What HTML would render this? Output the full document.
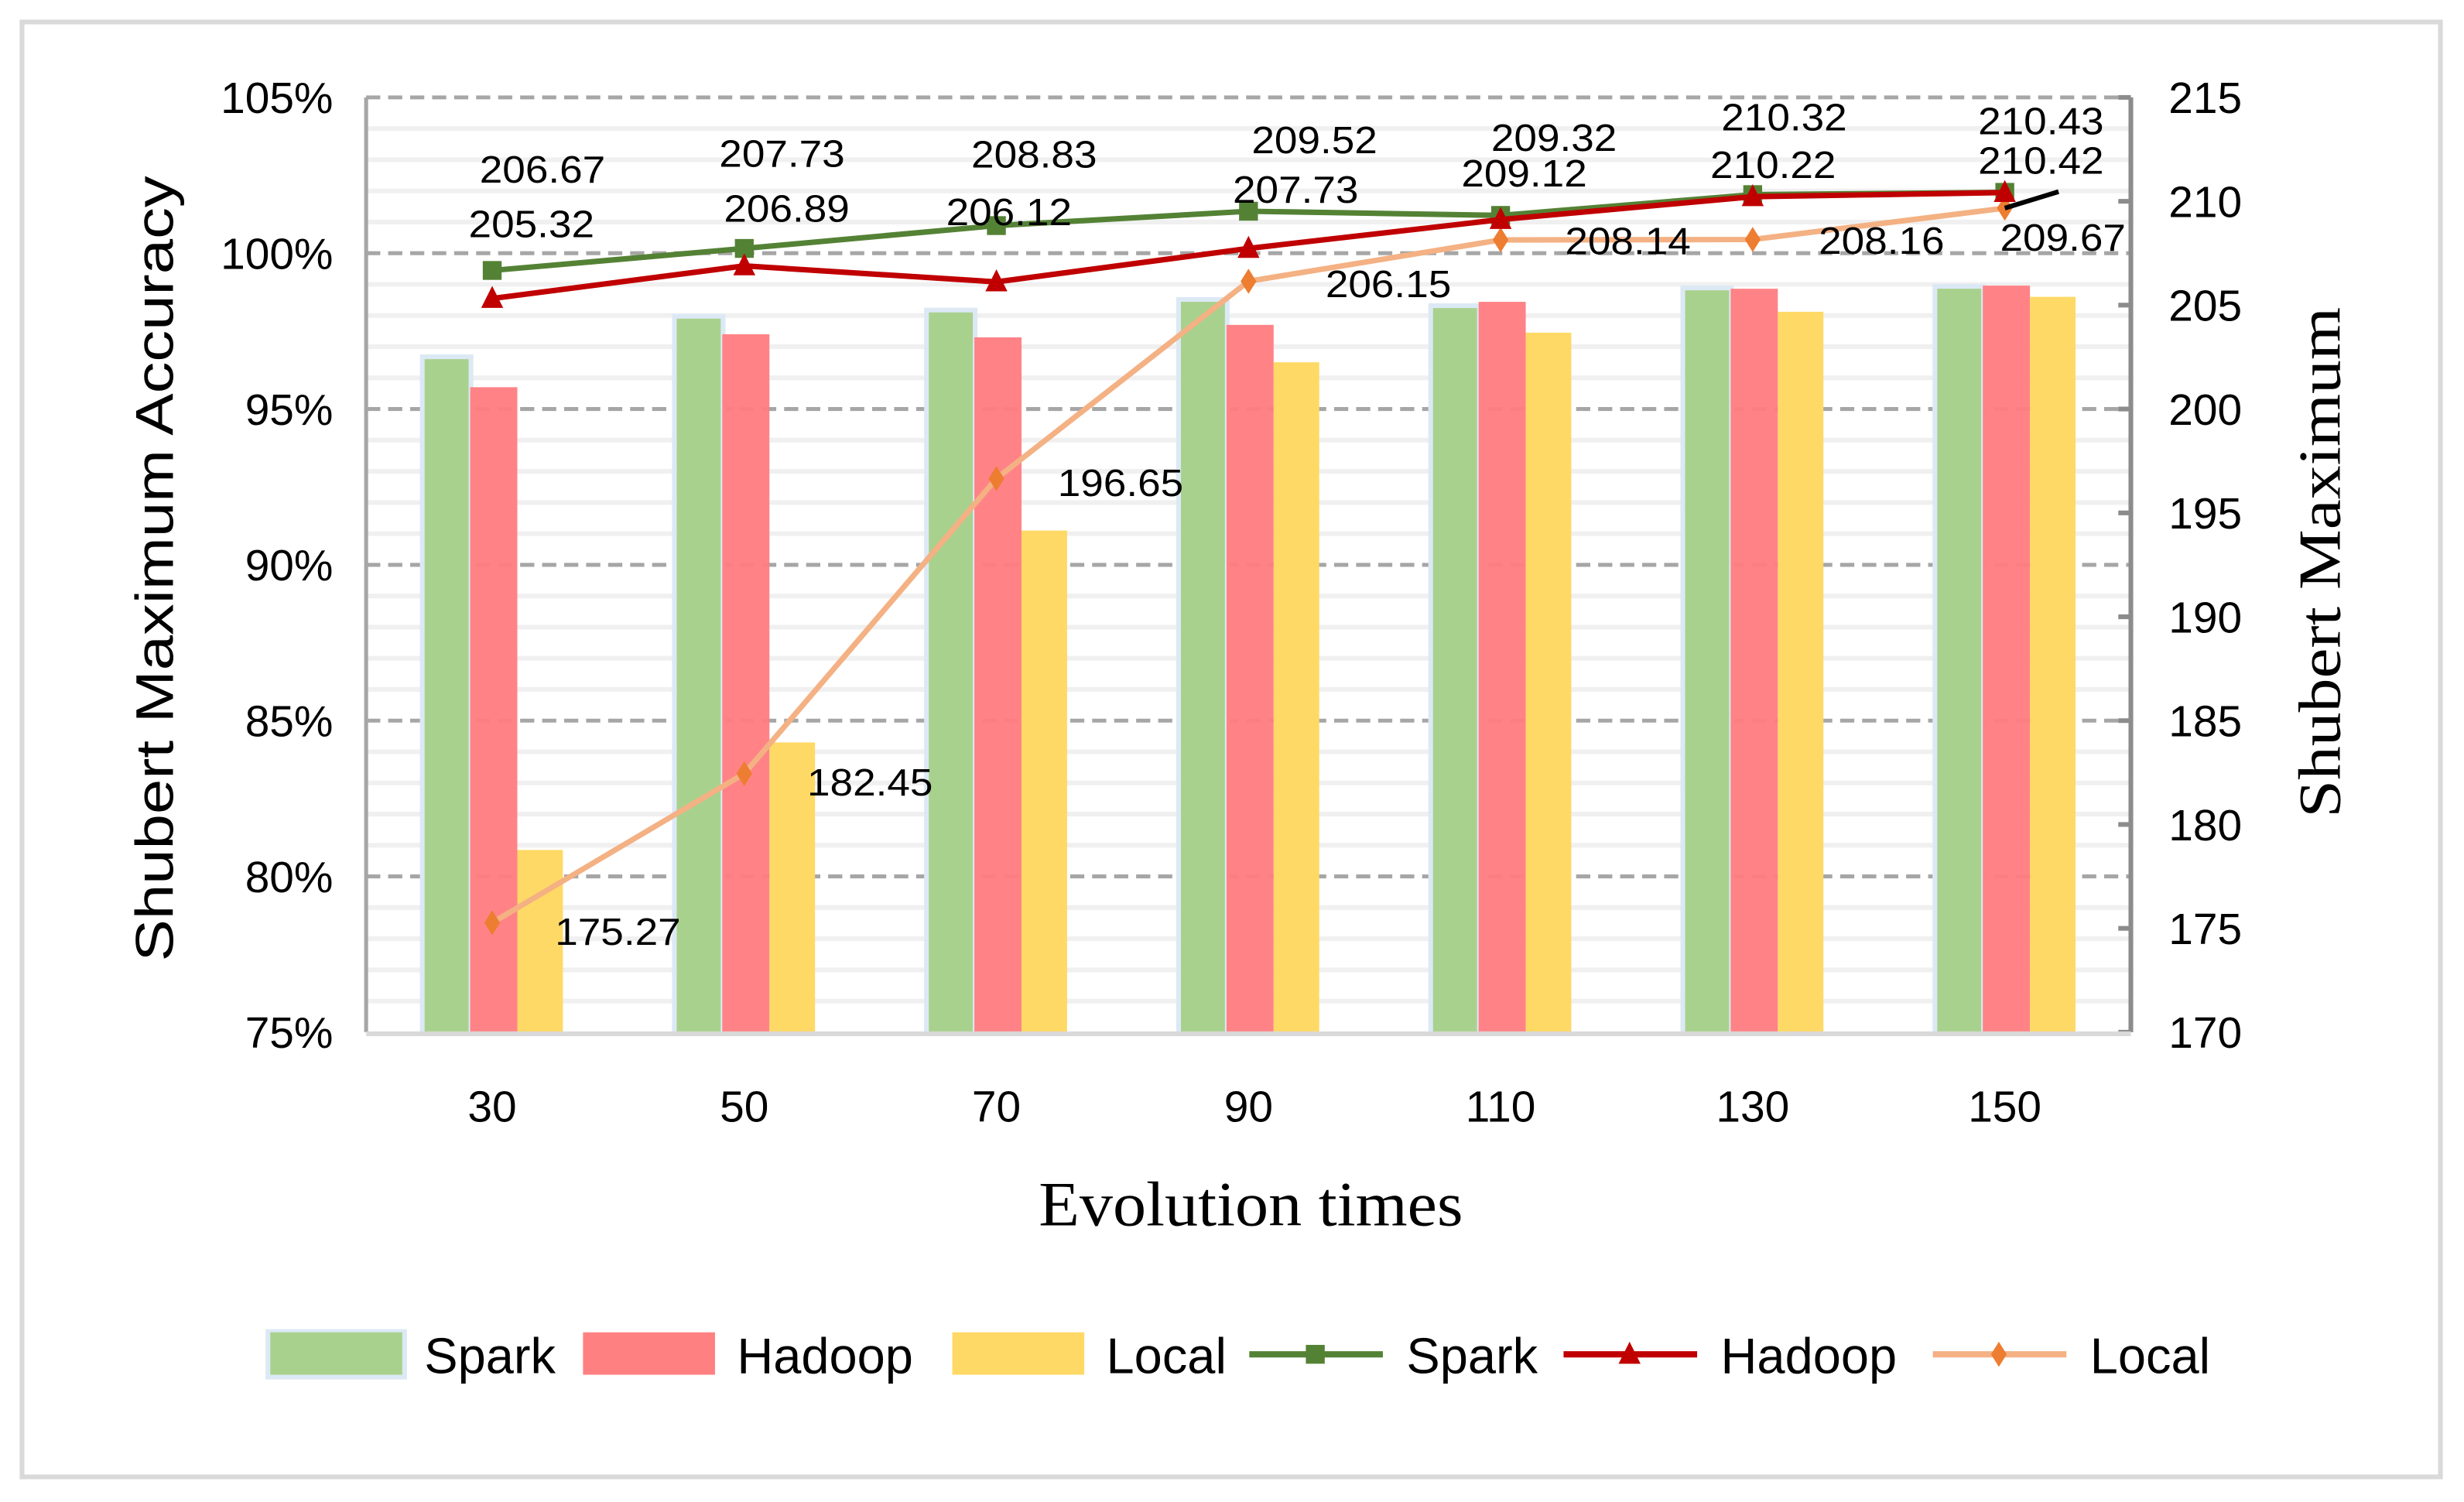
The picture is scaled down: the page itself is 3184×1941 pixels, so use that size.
<!DOCTYPE html>
<html><head><meta charset="utf-8">
<style>
html,body{margin:0;padding:0;background:#fff;}
svg{display:block;}
text{font-family:"Liberation Sans",sans-serif;fill:#000;}
.serif{font-family:"Liberation Serif",serif;}
</style></head>
<body>
<svg id="chart" width="3184" height="1941" viewBox="0 0 1568 956" preserveAspectRatio="none" xmlns="http://www.w3.org/2000/svg">
<rect x="14" y="14" width="1539" height="926" fill="#fff" stroke="#d9d9d9" stroke-width="3"/>
<g id="grid"></g>
<g id="bars"></g>
<g id="lines"></g>
<g id="labels"></g>
<g id="axes"></g>
<text transform="translate(110,362) rotate(-90)" text-anchor="middle" font-size="34" textLength="500" lengthAdjust="spacingAndGlyphs">Shubert Maximum Accuracy</text>
<text class="serif" transform="translate(1489,358) rotate(-90)" text-anchor="middle" font-size="38" textLength="325" lengthAdjust="spacingAndGlyphs">Shubert Maximum</text>
<text class="serif" x="796" y="780" text-anchor="middle" font-size="40" textLength="270" lengthAdjust="spacingAndGlyphs">Evolution times</text>
<g id="legend"></g>
</svg>
<script>
const categories = ["30","50","70","90","110","130","150"];
const sparkAcc = [96.6, 97.9, 98.1, 98.44, 98.24, 98.81, 98.86];
const hadoopAcc = [95.7, 97.4, 97.3, 97.7, 98.44, 98.86, 98.96];
const localAcc = [80.85, 84.3, 91.1, 96.5, 97.45, 98.12, 98.6];
const sparkMax = [206.67, 207.73, 208.83, 209.52, 209.32, 210.32, 210.43];
const hadoopMax = [205.32, 206.89, 206.12, 207.73, 209.12, 210.22, 210.42];
const localMax = [175.27, 182.45, 196.65, 206.15, 208.14, 208.16, 209.67];
const leftTicks = [75, 80, 85, 90, 95, 100, 105];
const rightTicks = [170, 175, 180, 185, 190, 195, 200, 205, 210, 215];

const NS = "http://www.w3.org/2000/svg";
const X0 = 233, X1 = 1356, YT = 62, YB = 657;
const band = (X1 - X0) / categories.length;
const xc = i => X0 + band * (i + 0.5);
const yL = v => YB - (v - 75) / 30 * (YB - YT);
const yR = v => YB - (v - 170) / 45 * (YB - YT);
function mk(tag, attrs, parent) {
  const el = document.createElementNS(NS, tag);
  for (const k in attrs) el.setAttribute(k, attrs[k]);
  parent.appendChild(el);
  return el;
}
const grid = document.getElementById('grid');
const bars = document.getElementById('bars');
const lines = document.getElementById('lines');
const labels = document.getElementById('labels');
const axes = document.getElementById('axes');
const legend = document.getElementById('legend');

for (let v = 76; v < 105; v++) {
  if (v % 5 === 0) continue;
  const l = mk('line', {x1: X0, x2: X1, y1: yL(v), y2: yL(v), stroke: '#f0f0f0', 'stroke-width': 3}, grid);
  
  
}
leftTicks.forEach(v => {
  if (v !== 75) {
    const l = mk('line', {x1: X0, x2: X1, y1: yL(v), y2: yL(v), stroke: '#a6a6a6', 'stroke-width': 2.5, 'stroke-dasharray': '9,5'}, grid);
    
    
  }
  const t = mk('text', {x: 212, y: yL(v) + 10, 'text-anchor': 'end', 'font-size': 28}, axes);
  t.textContent = v + '%';
  
  
});
rightTicks.forEach(v => {
  const t = mk('text', {x: 1380, y: yR(v) + 10, 'text-anchor': 'start', 'font-size': 28}, axes);
  t.textContent = v;
  
  
  const tk = mk('line', {x1: X1 - 8, x2: X1, y1: yR(v), y2: yR(v), stroke: '#8c8c8c', 'stroke-width': 3}, axes);
  
  
});

const barDefs = [
  {vals: sparkAcc, off: -43, w: 28, fill: '#a9d18e', name: 'bar-spark'},
  {vals: hadoopAcc, off: -14, w: 30, fill: '#ff7c80', name: 'bar-hadoop'},
  {vals: localAcc, off: 16, w: 29, fill: '#ffd966', name: 'bar-local'}
];
categories.forEach((c, i) => {
  const cx = xc(i);
  const hl = mk('rect', {x: cx - 46, y: yL(sparkAcc[i]) - 3, width: 34, height: YB - yL(sparkAcc[i]) + 3, fill: '#dce9f5'}, bars);
  
  
  barDefs.forEach(d => {
    const r = mk('rect', {x: cx + d.off, y: yL(d.vals[i]), width: d.w, height: YB - yL(d.vals[i]), fill: d.fill, 'fill-opacity': d.name === 'bar-hadoop' ? 0.95 : 1}, bars);
    
    
  });
  const t = mk('text', {x: cx, y: 714, 'text-anchor': 'middle', 'font-size': 28}, axes);
  t.textContent = c;
  
  
});

{
  const a = mk('line', {x1: X0, x2: X0, y1: YT, y2: YB, stroke: '#a6a6a6', 'stroke-width': 2.5}, axes);
  
  
  const b = mk('line', {x1: X1, x2: X1, y1: YT, y2: YB, stroke: '#8c8c8c', 'stroke-width': 3}, axes);
  
  
  const c = mk('line', {x1: X0, x2: X1, y1: YB + 1, y2: YB + 1, stroke: '#d9d9d9', 'stroke-width': 3}, axes);
  
  
}

function marker(kind, x, y, color, parent) {
  let m;
  if (kind === 'square') m = mk('rect', {x: x - 6, y: y - 6, width: 12, height: 12, fill: color}, parent);
  else if (kind === 'tri') m = mk('polygon', {points: `${x},${y-8} ${x-7},${y+6} ${x+7},${y+6}`, fill: color}, parent);
  else m = mk('polygon', {points: `${x},${y-8} ${x+5},${y} ${x},${y+8} ${x-5},${y}`, fill: color}, parent);
  return m;
}
const lineDefs = [
  {vals: localMax, stroke: '#f4b183', mcol: '#ed7d31', kind: 'dia', name: 'local'},
  {vals: sparkMax, stroke: '#548235', mcol: '#548235', kind: 'square', name: 'spark'},
  {vals: hadoopMax, stroke: '#c00000', mcol: '#c00000', kind: 'tri', name: 'hadoop'}
];
lineDefs.forEach(d => {
  const pts = d.vals.map((v, i) => xc(i) + ',' + yR(v)).join(' ');
  const pl = mk('polyline', {points: pts, fill: 'none', stroke: d.stroke, 'stroke-width': 3.5}, lines);
  
  
  d.vals.forEach((v, i) => {
    const m = marker(d.kind, xc(i), yR(v), d.mcol, lines);
    
    
  });
});
{
  const s = mk('line', {x1: xc(6), y1: yR(localMax[6]), x2: 1310, y2: 122, stroke: '#000', 'stroke-width': 3}, lines);
  
  
}

const sparkLblOff = [[32,-65],[24,-61],[24,-46],[42,-46],[34,-50],[20,-50],[23,-46]];
const hadoopLblOff = [[25,-48],[27,-37],[8,-45],[30,-38],[15,-30],[13,-21],[23,-21]];
const localLblOff = [[80,5],[80,5],[79,2],[89,1],[81,0],[82,0],[37,18]];
function addLabels(vals, offs, name) {
  vals.forEach((v, i) => {
    const t = mk('text', {x: xc(i) + offs[i][0], y: yR(v) + offs[i][1] + 9, 'text-anchor': 'middle', 'font-size': 24, textLength: 80, lengthAdjust: 'spacingAndGlyphs'}, labels);
    t.textContent = v.toFixed(2);
    
    
  });
}
addLabels(sparkMax, sparkLblOff, 'spark');
addLabels(hadoopMax, hadoopLblOff, 'hadoop');
addLabels(localMax, localLblOff, 'local');

const LY = 862;
const legBars = [
  {x: 172, fill: '#a9d18e', label: 'Spark', n: 'legend-bar-spark'},
  {x: 371, fill: '#ff8080', label: 'Hadoop', n: 'legend-bar-hadoop'},
  {x: 606, fill: '#ffd966', label: 'Local', n: 'legend-bar-local'}
];
legBars.forEach(b => {
  if (b.n === 'legend-bar-spark') {
    const o = mk('rect', {x: b.x - 3, y: LY - 16, width: 90, height: 32, fill: '#dce9f5'}, legend);
    
    
  }
  const r = mk('rect', {x: b.x, y: LY - 14, width: 84, height: 27, fill: b.fill}, legend);
  
  
  const t = mk('text', {x: b.x + 98, y: LY + 12, 'font-size': 32}, legend);
  t.textContent = b.label;
  
  
});
const legLines = [
  {x: 795, stroke: '#548235', mcol: '#548235', kind: 'square', label: 'Spark', n: 'legend-line-spark'},
  {x: 995, stroke: '#c00000', mcol: '#c00000', kind: 'tri', label: 'Hadoop', n: 'legend-line-hadoop'},
  {x: 1230, stroke: '#f4b183', mcol: '#ed7d31', kind: 'dia', label: 'Local', n: 'legend-line-local'}
];
legLines.forEach(b => {
  const l = mk('line', {x1: b.x, x2: b.x + 85, y1: LY, y2: LY, stroke: b.stroke, 'stroke-width': 4}, legend);
  
  
  const m = marker(b.kind, b.x + 42, LY, b.mcol, legend);
  
  
  const t = mk('text', {x: b.x + 100, y: LY + 12, 'font-size': 32}, legend);
  t.textContent = b.label;
  
  
});
</script>
</body></html>
